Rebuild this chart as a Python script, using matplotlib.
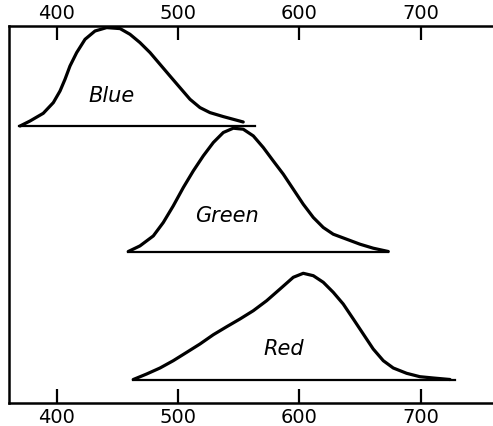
import matplotlib
matplotlib.use("Agg")
import matplotlib.pyplot as plt

# Wavelength (nm) and relative height of each response curve above its baseline
blue_nm = [370, 378.2, 389.1, 397.4, 402.9, 407, 411.1, 416.6, 423.5, 431.7, 441.3, 452.3,
           460.5, 468.7, 477, 485.2, 493.4, 501.6, 509.9, 518.1, 526.3, 537.3, 545.5, 553.7]
blue_h = [0, 5, 12.7, 23.4, 35, 46.7, 60, 73.4, 86.7, 95, 98.4, 97.4,
          91.7, 83.4, 73.4, 61.7, 50, 38.4, 26.7, 18.4, 13.4, 9.4, 6.7, 4]
blue_base = [369, 563.4]

green_nm = [459.1, 468.7, 479.7, 487.9, 496.1, 504.4, 512.6, 520.8, 529.1, 537.3, 545.5, 553.7,
            562, 570.2, 578.4, 586.7, 594.9, 603.1, 611.4, 619.6, 627.8, 638.8, 649.8, 660.7, 673.1]
green_h = [0, 5.6, 15.6, 29, 45.6, 64, 80.6, 95.6, 109, 119, 123.3, 122.3,
           115.6, 104, 90.6, 77.3, 62.3, 47.3, 34, 24, 17.3, 12.3, 7.3, 3.3, 0]
green_base = [459.1, 673.1]

red_nm = [463.2, 474.2, 485.2, 496.1, 507.2, 518.1, 529.1, 540.1, 551, 562, 573, 584, 594.9,
          603.1, 611.4, 619.6, 627.8, 636, 644.3, 652.5, 660.7, 669, 677.2, 688.2, 699.1, 710.1, 723.9]
red_h = [0, 5.5, 11.5, 18.8, 27.2, 35.5, 44.8, 52.8, 60.5, 68.8, 78.8, 90.5, 102.2,
         106.2, 103.8, 97.2, 87.2, 75.5, 60.5, 45.5, 30.5, 18.8, 11.5, 6.2, 2.8, 1.5, 0]
red_base = [463.2, 728]

ticks = [400, 500, 600, 700]
labels = ["Blue", "Green", "Red"]

fig = plt.figure(figsize=(4.93, 4.27), dpi=100)
ax = fig.add_axes([9/493, 23/427, 484/493, 377/427])

offsets = [277, 151.5, 23.5]
series = [(blue_nm, blue_h, blue_base), (green_nm, green_h, green_base), (red_nm, red_h, red_base)]
label_pos = [(445.7, 302), (540.7, 182.3), (586.7, 49)]
for (nm, h, base), off, lab, (lx, ly) in zip(series, offsets, labels, label_pos):
    ax.plot(nm, [v + off for v in h], color="black", lw=2.3, solid_joinstyle="round", solid_capstyle="round")
    ax.plot(base, [off, off], color="black", lw=1.6)
    ax.text(lx, ly, lab, fontsize=15, style="italic",
            ha="center", va="baseline", family="DejaVu Sans")

ax.set_xlim(360.9, 759.3)
ax.set_ylim(0, 377)
ax.set_xticks(ticks)
ax.set_yticks([])
ax.tick_params(axis="x", which="both", top=True, bottom=True, labeltop=True, labelbottom=True,
               direction="in", length=10, width=1.6, labelsize=14, pad=3)
for s in ["left", "top", "bottom"]:
    ax.spines[s].set_linewidth(1.8)
ax.spines["right"].set_visible(False)

fig.savefig("out.png", dpi=100)
